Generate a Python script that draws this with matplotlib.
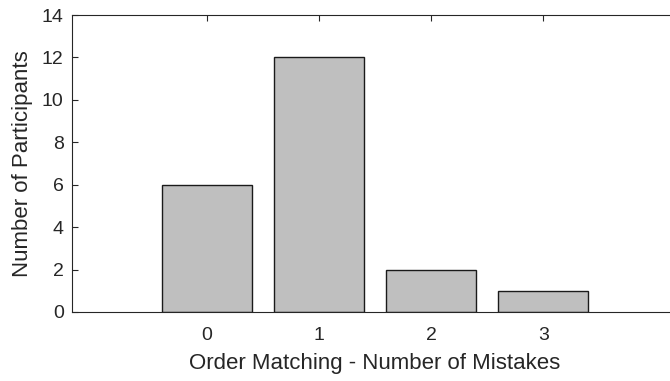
import matplotlib
matplotlib.use("Agg")
import matplotlib.pyplot as plt

mistakes = [0, 1, 2, 3]
participants = [6, 12, 2, 1]
yticks = [0, 2, 4, 6, 8, 10, 12, 14]

plt.rcParams['font.family'] = ['Liberation Sans', 'DejaVu Sans']
axcol = '#262626'

fig = plt.figure(figsize=(6.7, 3.81), dpi=100)
ax = fig.add_axes([72/670, 1-312/381, (678-72)/670, (312-15)/381])
ax.bar(mistakes, participants, width=0.8, color='#bfbfbf', edgecolor='#1a1a1a', linewidth=1.0, zorder=2)
ax.set_xlim(-1.2, 4.2)
ax.set_ylim(0, 14)
ax.set_xticks(mistakes)
ax.set_yticks(yticks)
ax.tick_params(direction='in', top=True, right=True, length=4, width=0.8,
               colors=axcol, labelsize=14)
ax.tick_params(axis='x', pad=11)
ax.tick_params(axis='y', pad=6)
for s in ax.spines.values():
    s.set_color(axcol)
    s.set_linewidth(0.8)
ax.set_xlabel('Order Matching - Number of Mistakes', fontsize=16, color=axcol, labelpad=6)
ax.set_ylabel('Number of Participants', fontsize=16, color=axcol, labelpad=6)
fig.savefig('out.png', dpi=100)
